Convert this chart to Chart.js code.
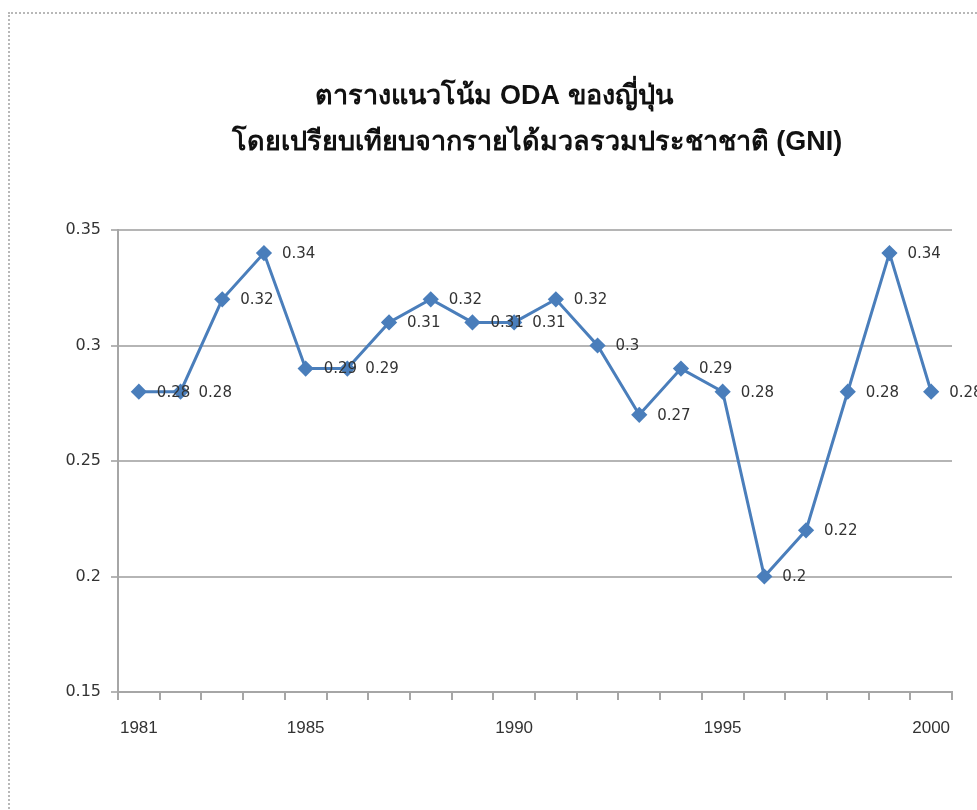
<!DOCTYPE html>
<html><head><meta charset="utf-8">
<script src="https://cdn.jsdelivr.net/npm/chart.js@4.4.0/dist/chart.umd.min.js"></script>
<style>
html,body{margin:0;padding:0;background:#fff;overflow:hidden;}
#wrap{position:relative;width:977px;height:810px;}
#frame{position:absolute;left:8px;top:12px;width:1000px;height:900px;border:2px dotted #b8b8b8;box-sizing:border-box;}
canvas{position:absolute;left:0;top:0;}
</style></head>
<body><div id="wrap"><div id="frame"></div><canvas id="c" width="977" height="810"></canvas></div>
<script>
const titleLines = ["ตารางแนวโน้ม ODA ของญี่ปุ่น", "โดยเปรียบเทียบจากรายได้มวลรวมประชาชาติ (GNI)"];
const years = [1981,1982,1983,1984,1985,1986,1987,1988,1989,1990,1991,1992,1993,1994,1995,1996,1997,1998,1999,2000];
const odaGni = [0.28,0.28,0.32,0.34,0.29,0.29,0.31,0.32,0.31,0.31,0.32,0.3,0.27,0.29,0.28,0.2,0.22,0.28,0.34,0.28];
const shownYears = [1981,1985,1990,1995,2000];
const yTicks = [0.15,0.2,0.25,0.3,0.35];

const titlePlugin = {
  id:'titleDraw',
  afterDraw(chart){
    const ctx = chart.ctx;
    ctx.save();
    ctx.fillStyle = '#111';
    ctx.font = 'bold 27px "Liberation Sans", Arial, sans-serif';
    ctx.textBaseline = 'middle';
    ctx.textAlign = 'center';
    ctx.fillText(titleLines[0], 494, 97);
    ctx.fillText(titleLines[1], 537, 143);
    ctx.restore();
  }
};
const labelPlugin = {
  id:'valueLabels',
  afterDatasetsDraw(chart){
    const ctx = chart.ctx;
    const meta = chart.getDatasetMeta(0);
    ctx.save();
    ctx.fillStyle = '#333';
    ctx.font = '15px "DejaVu Sans", sans-serif';
    ctx.textAlign = 'left';
    ctx.textBaseline = 'middle';
    meta.data.forEach((pt,i)=>{
      ctx.fillText(String(odaGni[i]), pt.x + 18, pt.y + 1);
    });
    ctx.restore();
  }
};

new Chart(document.getElementById('c'), {
  type:'line',
  data:{labels:years.map(String), datasets:[{
    data:odaGni,
    borderColor:'#4a7ebb', backgroundColor:'#4a7ebb',
    borderWidth:3, pointStyle:'rectRot', pointRadius:6, pointHoverRadius:6,
    tension:0, fill:false
  }]},
  options:{
    responsive:false, animation:false,
    layout:{padding:{left:0,top:230,right:25,bottom:0}},
    plugins:{legend:{display:false}, title:{display:false}, tooltip:{enabled:false}},
    scales:{
      x:{
        offset:true,
        grid:{offset:true, drawOnChartArea:false, color:'#a6a6a6', lineWidth:2, tickLength:8},
        border:{color:'#a6a6a6', width:2},
        ticks:{autoSkip:false, maxRotation:0, padding:18, color:'#333',
          font:{family:'"Liberation Sans", Arial, sans-serif', size:17},
          callback:(v,i)=> shownYears.includes(years[i]) ? String(years[i]) : ''},
        afterFit(s){ s.height = 810-692; }
      },
      y:{
        min:0.15, max:0.35,
        afterBuildTicks(s){ s.ticks = yTicks.map(v=>({value:v})); },
        grid:{color:'#b5b5b5', lineWidth:2, tickLength:7},
        border:{color:'#a6a6a6', width:2},
        ticks:{padding:10, color:'#333', font:{family:'"DejaVu Sans", sans-serif', size:16},
          callback:v=>String(v)},
        afterFit(s){ s.width = 118; }
      }
    }
  },
  plugins:[titlePlugin,labelPlugin]
});
</script></body></html>
